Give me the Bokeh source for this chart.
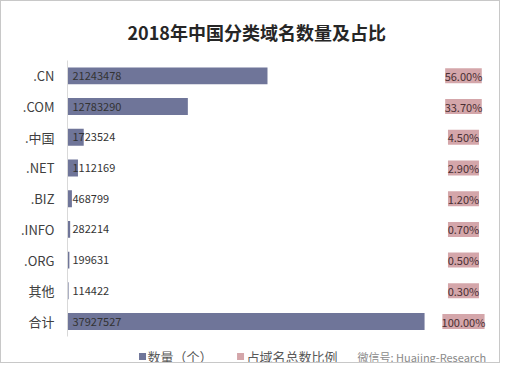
from bokeh.plotting import figure
from bokeh.models import ColumnDataSource, LabelSet, Range1d, FixedTicker
from bokeh.core.properties import value
from bokeh.embed import file_html
from bokeh.resources import INLINE

categories = [".CN", ".COM", ".中国", ".NET", ".BIZ", ".INFO", ".ORG", "其他", "合计"]
counts = [21243478, 12783290, 1723524, 1112169, 468799, 282214, 199631, 114422, 37927527]
shares = [56.00, 33.70, 4.50, 2.90, 1.20, 0.70, 0.50, 0.30, 100.00]
series_names = ["数量（个）", "占域名总数比例"]
watermark = "微信号: Huajing-Research"

BAR = "#6f7599"
PINK = "#d4a6aa"
FONT = "Noto Sans CJK SC"
X_END = 45.25e6
PCT_X = 42.06e6
LEG_Y = -1.14
LEG_SQ_X = [7.97e6, 18.38e6]
LEG_TX_X = [8.50e6, 19.01e6]
WM_X = 30.8e6

n = len(categories)
rows = list(range(n - 1, -1, -1))
pct_txt = ["%.2f%%" % s for s in shares]
src = ColumnDataSource(dict(
    row=rows,
    cnt=counts,
    cnt_txt=[str(c) for c in counts],
    pct_txt=pct_txt,
    pct_x=[PCT_X] * n,
    box_w=[5.6 * len(t) + 3 for t in pct_txt],
    zero=[0] * n,
))

p = figure(width=500, height=363, output_backend="svg", toolbar_location=None,
           y_range=Range1d(LEG_Y - 0.26, n - 0.5), x_range=Range1d(0, X_END),
           min_border_left=66, min_border_right=8, min_border_top=55, min_border_bottom=0)
p.styles = {"border": "1px solid #c8c8c8"}
p.outline_line_color = None
p.xgrid.visible = False
p.ygrid.visible = False
p.xaxis.visible = False
p.yaxis.ticker = FixedTicker(ticks=rows)
p.yaxis.major_label_overrides = {r: c for r, c in zip(rows, categories)}
p.yaxis.bounds = (-0.5, n - 0.5)
p.yaxis.axis_line_color = "#d9d9d9"
p.yaxis.major_tick_line_color = None
p.yaxis.minor_tick_line_color = None
p.yaxis.major_tick_out = 0
p.yaxis.major_tick_in = 0
p.yaxis.minor_tick_out = 0
p.yaxis.major_label_text_font = FONT
p.yaxis.major_label_text_font_size = "13px"
p.yaxis.major_label_text_color = "#404040"
p.yaxis.major_label_standoff = 13

p.title.text = "2018年中国分类域名数量及占比"
p.title.align = "left"
p.title.offset = 60
p.title.standoff = 31
p.title.text_font = FONT
p.title.text_font_size = "18px"
p.title.text_font_style = "bold"
p.title.text_color = "#262626"

bars = p.hbar(y="row", right="cnt", left=0, height=0.55, source=src,
              fill_color=BAR, line_color=None)
boxes = p.rect(x="pct_x", y="row", width="box_w", width_units="screen",
               height=15, height_units="screen", source=src,
               fill_color=PINK, line_color=None)

vals = LabelSet(x="zero", y="row", text="cnt_txt", source=src, x_offset=5,
                text_align="left", text_baseline="middle", text_font=value(FONT),
                text_font_size="11px", text_color="#333333")
p.add_layout(vals)

pcts = LabelSet(x="pct_x", y="row", text="pct_txt", source=src,
                text_align="center", text_baseline="middle", text_font=value(FONT),
                text_font_size="11px", text_color="#4a2f33")
p.add_layout(pcts)

# legend drawn as glyphs in the bottom strip of the frame
leg_src = ColumnDataSource(dict(
    sx=LEG_SQ_X, tx=LEG_TX_X, y=[LEG_Y, LEG_Y], name=series_names, color=[BAR, PINK],
))
p.rect(x="sx", y="y", width=7, height=7, width_units="screen", height_units="screen",
       fill_color="color", line_color=None, source=leg_src)
leg_txt = LabelSet(x="tx", y="y", text="name", source=leg_src, text_align="left",
                   text_baseline="middle", text_font=value(FONT),
                   text_font_size="13px", text_color="#595959")
p.add_layout(leg_txt)

wm_src = ColumnDataSource(dict(x=[WM_X], y=[LEG_Y], t=[watermark]))
wm = LabelSet(x="x", y="y", text="t", source=wm_src, text_align="left",
              text_baseline="middle", text_font=value(FONT),
              text_font_size="11px", text_color="#8a8a8a")
p.add_layout(wm)

open("out.html", "w").write(file_html(p, INLINE))
